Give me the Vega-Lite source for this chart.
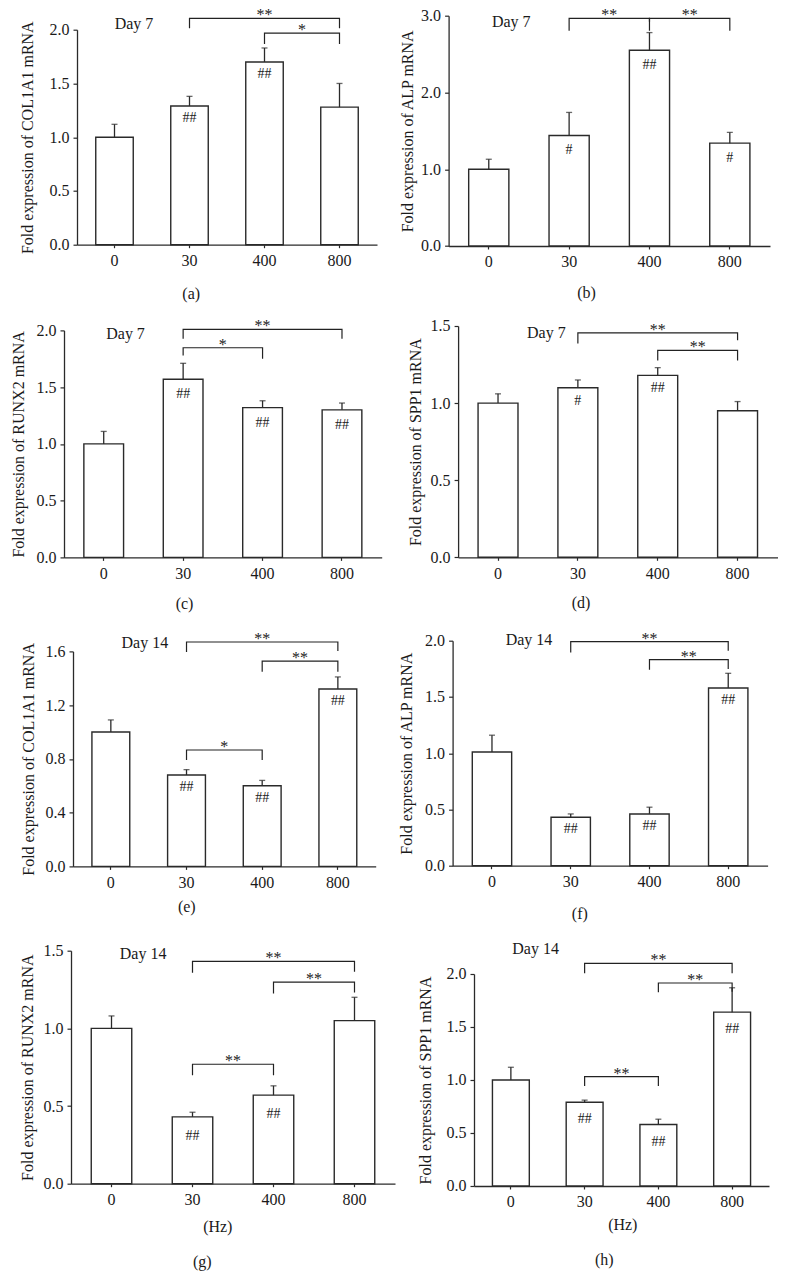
{
"$schema": "https://vega.github.io/schema/vega-lite/v6.json",
"padding": {"left": 10, "top": 6.7, "right": 5, "bottom": 5},
"background": "white",
"datasets": {
"bars": [
{"p":"a","g":"0","m":1.00,"hi":1.12,"lab":""},{"p":"a","g":"30","m":1.29,"hi":1.38,"lab":"##"},{"p":"a","g":"400","m":1.70,"hi":1.83,"lab":"##"},{"p":"a","g":"800","m":1.28,"hi":1.50,"lab":""},
{"p":"b","g":"0","m":1.00,"hi":1.13,"lab":""},{"p":"b","g":"30","m":1.44,"hi":1.74,"lab":"#"},{"p":"b","g":"400","m":2.55,"hi":2.78,"lab":"##"},{"p":"b","g":"800","m":1.34,"hi":1.48,"lab":"#"},
{"p":"c","g":"0","m":1.00,"hi":1.11,"lab":""},{"p":"c","g":"30","m":1.57,"hi":1.71,"lab":"##"},{"p":"c","g":"400","m":1.32,"hi":1.38,"lab":"##"},{"p":"c","g":"800","m":1.30,"hi":1.36,"lab":"##"},
{"p":"d","g":"0","m":1.00,"hi":1.06,"lab":""},{"p":"d","g":"30","m":1.10,"hi":1.15,"lab":"#"},{"p":"d","g":"400","m":1.18,"hi":1.23,"lab":"##"},{"p":"d","g":"800","m":0.95,"hi":1.01,"lab":""},
{"p":"e","g":"0","m":1.00,"hi":1.09,"lab":""},{"p":"e","g":"30","m":0.68,"hi":0.72,"lab":"##"},{"p":"e","g":"400","m":0.60,"hi":0.64,"lab":"##"},{"p":"e","g":"800","m":1.32,"hi":1.41,"lab":"##"},
{"p":"f","g":"0","m":1.01,"hi":1.16,"lab":""},{"p":"f","g":"30","m":0.43,"hi":0.46,"lab":"##"},{"p":"f","g":"400","m":0.46,"hi":0.52,"lab":"##"},{"p":"f","g":"800","m":1.58,"hi":1.71,"lab":"##"},
{"p":"g","g":"0","m":1.00,"hi":1.08,"lab":""},{"p":"g","g":"30","m":0.43,"hi":0.46,"lab":"##"},{"p":"g","g":"400","m":0.57,"hi":0.63,"lab":"##"},{"p":"g","g":"800","m":1.05,"hi":1.20,"lab":""},
{"p":"h","g":"0","m":1.00,"hi":1.12,"lab":""},{"p":"h","g":"30","m":0.79,"hi":0.81,"lab":"##"},{"p":"h","g":"400","m":0.58,"hi":0.63,"lab":"##"},{"p":"h","g":"800","m":1.64,"hi":1.87,"lab":"##"}
],
"brk": [
{"p":"a","id":"a1","o":1,"g":"30","v":2.013},{"p":"a","id":"a1","o":2,"g":"30","v":2.106},{"p":"a","id":"a1","o":3,"g":"800","v":2.106},{"p":"a","id":"a1","o":4,"g":"800","v":2.013},
{"p":"a","id":"a2","o":1,"g":"400","v":1.867},{"p":"a","id":"a2","o":2,"g":"400","v":1.969},{"p":"a","id":"a2","o":3,"g":"800","v":1.969},{"p":"a","id":"a2","o":4,"g":"800","v":1.867},
{"p":"b","id":"b1","o":1,"g":"30","v":2.804},{"p":"b","id":"b1","o":2,"g":"30","v":2.966},{"p":"b","id":"b1","o":3,"g":"400","v":2.966},{"p":"b","id":"b1","o":4,"g":"400","v":2.804},
{"p":"b","id":"b2","o":1,"g":"400","v":2.922},{"p":"b","id":"b2","o":2,"g":"400","v":2.966},{"p":"b","id":"b2","o":3,"g":"800","v":2.966},{"p":"b","id":"b2","o":4,"g":"800","v":2.804},
{"p":"c","id":"c1","o":1,"g":"30","v":1.779},{"p":"c","id":"c1","o":2,"g":"30","v":1.847},{"p":"c","id":"c1","o":3,"g":"400","v":1.847},{"p":"c","id":"c1","o":4,"g":"400","v":1.75},
{"p":"c","id":"c2","o":1,"g":"30","v":1.926},{"p":"c","id":"c2","o":2,"g":"30","v":2.009},{"p":"c","id":"c2","o":3,"g":"800","v":2.009},{"p":"c","id":"c2","o":4,"g":"800","v":1.926},
{"p":"d","id":"d1","o":1,"g":"30","v":1.386},{"p":"d","id":"d1","o":2,"g":"30","v":1.455},{"p":"d","id":"d1","o":3,"g":"800","v":1.455},{"p":"d","id":"d1","o":4,"g":"800","v":1.407},
{"p":"d","id":"d2","o":1,"g":"400","v":1.277},{"p":"d","id":"d2","o":2,"g":"400","v":1.342},{"p":"d","id":"d2","o":3,"g":"800","v":1.342},{"p":"d","id":"d2","o":4,"g":"800","v":1.277},
{"p":"e","id":"e1","o":1,"g":"30","v":1.595},{"p":"e","id":"e1","o":2,"g":"30","v":1.670},{"p":"e","id":"e1","o":3,"g":"800","v":1.670},{"p":"e","id":"e1","o":4,"g":"800","v":1.603},
{"p":"e","id":"e2","o":1,"g":"400","v":1.449},{"p":"e","id":"e2","o":2,"g":"400","v":1.528},{"p":"e","id":"e2","o":3,"g":"800","v":1.528},{"p":"e","id":"e2","o":4,"g":"800","v":1.449},
{"p":"e","id":"e3","o":1,"g":"30","v":0.791},{"p":"e","id":"e3","o":2,"g":"30","v":0.866},{"p":"e","id":"e3","o":3,"g":"400","v":0.866},{"p":"e","id":"e3","o":4,"g":"400","v":0.791},
{"p":"f","id":"f1","o":1,"g":"30","v":1.896},{"p":"f","id":"f1","o":2,"g":"30","v":1.991},{"p":"f","id":"f1","o":3,"g":"800","v":1.991},{"p":"f","id":"f1","o":4,"g":"800","v":1.911},
{"p":"f","id":"f2","o":1,"g":"400","v":1.742},{"p":"f","id":"f2","o":2,"g":"400","v":1.831},{"p":"f","id":"f2","o":3,"g":"800","v":1.831},{"p":"f","id":"f2","o":4,"g":"800","v":1.748},
{"p":"g","id":"g1","o":1,"g":"30","v":1.358},{"p":"g","id":"g1","o":2,"g":"30","v":1.431},{"p":"g","id":"g1","o":3,"g":"800","v":1.431},{"p":"g","id":"g1","o":4,"g":"800","v":1.364},
{"p":"g","id":"g2","o":1,"g":"400","v":1.225},{"p":"g","id":"g2","o":2,"g":"400","v":1.298},{"p":"g","id":"g2","o":3,"g":"800","v":1.298},{"p":"g","id":"g2","o":4,"g":"800","v":1.231},
{"p":"g","id":"g3","o":1,"g":"30","v":0.698},{"p":"g","id":"g3","o":2,"g":"30","v":0.769},{"p":"g","id":"g3","o":3,"g":"400","v":0.769},{"p":"g","id":"g3","o":4,"g":"400","v":0.698},
{"p":"h","id":"h1","o":1,"g":"30","v":2.006},{"p":"h","id":"h1","o":2,"g":"30","v":2.101},{"p":"h","id":"h1","o":3,"g":"800","v":2.101},{"p":"h","id":"h1","o":4,"g":"800","v":2.006},
{"p":"h","id":"h2","o":1,"g":"400","v":1.827},{"p":"h","id":"h2","o":2,"g":"400","v":1.915},{"p":"h","id":"h2","o":3,"g":"800","v":1.915},{"p":"h","id":"h2","o":4,"g":"800","v":1.833},
{"p":"h","id":"h3","o":1,"g":"30","v":0.943},{"p":"h","id":"h3","o":2,"g":"30","v":1.031},{"p":"h","id":"h3","o":3,"g":"400","v":1.031},{"p":"h","id":"h3","o":4,"g":"400","v":0.943}
],
"stars": [
{"p":"a","g":"30","span":2,"v":2.106,"s":"**"},{"p":"a","g":"400","span":1,"v":1.969,"s":"*"},
{"p":"b","g":"30","span":1,"v":2.966,"s":"**"},{"p":"b","g":"400","span":1,"v":2.966,"s":"**"},
{"p":"c","g":"30","span":1,"v":1.847,"s":"*"},{"p":"c","g":"30","span":2,"v":2.009,"s":"**"},
{"p":"d","g":"30","span":2,"v":1.455,"s":"**"},{"p":"d","g":"400","span":1,"v":1.342,"s":"**"},
{"p":"e","g":"30","span":2,"v":1.670,"s":"**"},{"p":"e","g":"400","span":1,"v":1.528,"s":"**"},{"p":"e","g":"30","span":1,"v":0.866,"s":"*"},
{"p":"f","g":"30","span":2,"v":1.991,"s":"**"},{"p":"f","g":"400","span":1,"v":1.831,"s":"**"},
{"p":"g","g":"30","span":2,"v":1.431,"s":"**"},{"p":"g","g":"400","span":1,"v":1.298,"s":"**"},{"p":"g","g":"30","span":1,"v":0.769,"s":"**"},
{"p":"h","g":"30","span":2,"v":2.101,"s":"**"},{"p":"h","g":"400","span":1,"v":1.915,"s":"**"},{"p":"h","g":"30","span":1,"v":1.031,"s":"**"}
],
"days": [
{"p":"a","day":"Day 7"},{"p":"b","day":"Day 7"},{"p":"c","day":"Day 7"},{"p":"d","day":"Day 7"},
{"p":"e","day":"Day 14"},{"p":"f","day":"Day 14"},{"p":"g","day":"Day 14"},{"p":"h","day":"Day 14"}
]
},
"config": {
"view": {"stroke": null},
"font": "Liberation Serif",
"text": {"font": "Liberation Serif", "color": "#1a1a1a"},
"title": {"font": "Liberation Serif", "fontSize": 16, "fontWeight": "normal", "color": "#1a1a1a"},
"axis": {"grid": false, "domainColor": "#2a2a2a", "domainWidth": 1.3, "tickColor": "#2a2a2a", "tickWidth": 1.2, "labelColor": "#1a1a1a", "titleColor": "#1a1a1a", "labelFont": "Liberation Serif", "titleFont": "Liberation Serif", "labelFontSize": 16, "titleFontSize": 16, "titleFontWeight": "normal"},
"axisX": {"labelAngle": 0, "tickSize": 3, "labelPadding": 5, "titleFontSize": 16},
"axisY": {"tickSize": 4, "labelPadding": 4}
},
"columns": 2,
"align": "none",
"spacing": -3,
"concat": [
{"columns": 1, "align": "none", "spacing": 15.7, "concat": [
{"width": 300, "height": 215, "layer": [
{"data": {"name": "bars"}, "transform": [{"filter": "datum.p==='a'"}], "mark": {"type": "bar", "fill": "#ffffff", "stroke": "#2a2a2a", "strokeWidth": 1.4},
 "encoding": {"x": {"field": "g", "type": "nominal", "scale": {"domain": ["0","30","400","800"], "paddingInner": 0.5, "paddingOuter": 0.25}, "axis": {"title": "(a)", "titlePadding": 17, "titleX": 113.7}},
 "y": {"field": "m", "type": "quantitative", "scale": {"domain": [0, 2], "nice": false}, "axis": {"title": "Fold expression of COL1A1 mRNA", "values": [0, 0.5, 1, 1.5, 2], "format": ".1f", "titlePadding": 13.8}}}},
{"data": {"name": "bars"}, "transform": [{"filter": "datum.p==='a'"}], "mark": {"type": "rule", "color": "#2a2a2a", "strokeWidth": 1.3}, "encoding": {"x": {"field": "g", "type": "nominal"}, "y": {"field": "m", "type": "quantitative"}, "y2": {"field": "hi"}}},
{"data": {"name": "bars"}, "transform": [{"filter": "datum.p==='a'"}], "mark": {"type": "tick", "color": "#2a2a2a", "size": 6, "thickness": 1.3}, "encoding": {"x": {"field": "g", "type": "nominal"}, "y": {"field": "hi", "type": "quantitative"}}},
{"data": {"name": "bars"}, "transform": [{"filter": "datum.p==='a'"}], "mark": {"type": "text", "baseline": "top", "dy": 5, "fontSize": 14}, "encoding": {"x": {"field": "g", "type": "nominal"}, "y": {"field": "m", "type": "quantitative"}, "text": {"field": "lab"}}},
{"data": {"name": "brk"}, "transform": [{"filter": "datum.p==='a'"}], "mark": {"type": "line", "color": "#222222", "strokeWidth": 1.2}, "encoding": {"x": {"field": "g", "type": "nominal"}, "y": {"field": "v", "type": "quantitative"}, "detail": {"field": "id"}, "order": {"field": "o"}}},
{"data": {"name": "stars"}, "transform": [{"filter": "datum.p==='a' && datum.span===1"}], "mark": {"type": "text", "baseline": "alphabetic", "dy": 2, "fontSize": 16}, "encoding": {"x": {"field": "g", "type": "nominal", "bandPosition": 1.5}, "y": {"field": "v", "type": "quantitative"}, "text": {"field": "s"}}},
{"data": {"name": "stars"}, "transform": [{"filter": "datum.p==='a' && datum.span===2"}], "mark": {"type": "text", "baseline": "alphabetic", "dy": 2, "fontSize": 16}, "encoding": {"x": {"field": "g", "type": "nominal", "bandPosition": 2.5}, "y": {"field": "v", "type": "quantitative"}, "text": {"field": "s"}}},
{"data": {"name": "days"}, "transform": [{"filter": "datum.p==='a'"}], "mark": {"type": "text", "baseline": "middle", "fontSize": 16}, "encoding": {"x": {"datum": "0", "type": "nominal", "bandPosition": 1.02}, "y": {"datum": 2.053, "type": "quantitative"}, "text": {"field": "day"}}}
]},
{"columns": 1, "align": "none", "spacing": 18, "concat": [
{"width": 304.7, "height": 227, "layer": [
{"data": {"name": "bars"}, "transform": [{"filter": "datum.p==='c'"}], "mark": {"type": "bar", "fill": "#ffffff", "stroke": "#2a2a2a", "strokeWidth": 1.4},
 "encoding": {"x": {"field": "g", "type": "nominal", "scale": {"domain": ["0","30","400","800"], "paddingInner": 0.5, "paddingOuter": 0.25, "range": [-13, 304.7]}, "axis": {"title": "(c)", "titlePadding": 14.4, "titleX": 107}},
 "y": {"field": "m", "type": "quantitative", "scale": {"domain": [0, 2], "nice": false}, "axis": {"title": "Fold expression of RUNX2 mRNA", "values": [0, 0.5, 1, 1.5, 2], "format": ".1f", "titlePadding": 9.5, "offset": 13}}}},
{"data": {"name": "bars"}, "transform": [{"filter": "datum.p==='c'"}], "mark": {"type": "rule", "color": "#2a2a2a", "strokeWidth": 1.3}, "encoding": {"x": {"field": "g", "type": "nominal"}, "y": {"field": "m", "type": "quantitative"}, "y2": {"field": "hi"}}},
{"data": {"name": "bars"}, "transform": [{"filter": "datum.p==='c'"}], "mark": {"type": "tick", "color": "#2a2a2a", "size": 6, "thickness": 1.3}, "encoding": {"x": {"field": "g", "type": "nominal"}, "y": {"field": "hi", "type": "quantitative"}}},
{"data": {"name": "bars"}, "transform": [{"filter": "datum.p==='c'"}], "mark": {"type": "text", "baseline": "top", "dy": 8, "fontSize": 14}, "encoding": {"x": {"field": "g", "type": "nominal"}, "y": {"field": "m", "type": "quantitative"}, "text": {"field": "lab"}}},
{"data": {"name": "brk"}, "transform": [{"filter": "datum.p==='c'"}], "mark": {"type": "line", "color": "#222222", "strokeWidth": 1.2}, "encoding": {"x": {"field": "g", "type": "nominal"}, "y": {"field": "v", "type": "quantitative"}, "detail": {"field": "id"}, "order": {"field": "o"}}},
{"data": {"name": "stars"}, "transform": [{"filter": "datum.p==='c' && datum.span===1"}], "mark": {"type": "text", "baseline": "alphabetic", "dy": 2, "fontSize": 16}, "encoding": {"x": {"field": "g", "type": "nominal", "bandPosition": 1.5}, "y": {"field": "v", "type": "quantitative"}, "text": {"field": "s"}}},
{"data": {"name": "stars"}, "transform": [{"filter": "datum.p==='c' && datum.span===2"}], "mark": {"type": "text", "baseline": "alphabetic", "dy": 2, "fontSize": 16}, "encoding": {"x": {"field": "g", "type": "nominal", "bandPosition": 2.5}, "y": {"field": "v", "type": "quantitative"}, "text": {"field": "s"}}},
{"data": {"name": "days"}, "transform": [{"filter": "datum.p==='c'"}], "mark": {"type": "text", "baseline": "middle", "fontSize": 16}, "encoding": {"x": {"datum": "0", "type": "nominal", "bandPosition": 1.05}, "y": {"datum": 1.971, "type": "quantitative"}, "text": {"field": "day"}}}
]},
{"columns": 1, "align": "none", "spacing": 27.3, "concat": [
{"width": 298.7, "height": 215, "layer": [
{"data": {"name": "bars"}, "transform": [{"filter": "datum.p==='e'"}], "mark": {"type": "bar", "fill": "#ffffff", "stroke": "#2a2a2a", "strokeWidth": 1.4},
 "encoding": {"x": {"field": "g", "type": "nominal", "scale": {"domain": ["0","30","400","800"], "paddingInner": 0.5, "paddingOuter": 0.25, "range": [-4, 298.7]}, "axis": {"title": "(e)", "titlePadding": 8.4, "titleX": 109.3}},
 "y": {"field": "m", "type": "quantitative", "scale": {"domain": [0, 1.6], "nice": false}, "axis": {"title": "Fold expression of COL1A1 mRNA", "values": [0, 0.4, 0.8, 1.2, 1.6], "format": ".1f", "titlePadding": 8.5, "offset": 4}}}},
{"data": {"name": "bars"}, "transform": [{"filter": "datum.p==='e'"}], "mark": {"type": "rule", "color": "#2a2a2a", "strokeWidth": 1.3}, "encoding": {"x": {"field": "g", "type": "nominal"}, "y": {"field": "m", "type": "quantitative"}, "y2": {"field": "hi"}}},
{"data": {"name": "bars"}, "transform": [{"filter": "datum.p==='e'"}], "mark": {"type": "tick", "color": "#2a2a2a", "size": 6, "thickness": 1.3}, "encoding": {"x": {"field": "g", "type": "nominal"}, "y": {"field": "hi", "type": "quantitative"}}},
{"data": {"name": "bars"}, "transform": [{"filter": "datum.p==='e'"}], "mark": {"type": "text", "baseline": "top", "dy": 5, "fontSize": 14}, "encoding": {"x": {"field": "g", "type": "nominal"}, "y": {"field": "m", "type": "quantitative"}, "text": {"field": "lab"}}},
{"data": {"name": "brk"}, "transform": [{"filter": "datum.p==='e'"}], "mark": {"type": "line", "color": "#222222", "strokeWidth": 1.2}, "encoding": {"x": {"field": "g", "type": "nominal"}, "y": {"field": "v", "type": "quantitative"}, "detail": {"field": "id"}, "order": {"field": "o"}}},
{"data": {"name": "stars"}, "transform": [{"filter": "datum.p==='e' && datum.span===1"}], "mark": {"type": "text", "baseline": "alphabetic", "dy": 2, "fontSize": 16}, "encoding": {"x": {"field": "g", "type": "nominal", "bandPosition": 1.5}, "y": {"field": "v", "type": "quantitative"}, "text": {"field": "s"}}},
{"data": {"name": "stars"}, "transform": [{"filter": "datum.p==='e' && datum.span===2"}], "mark": {"type": "text", "baseline": "alphabetic", "dy": 2, "fontSize": 16}, "encoding": {"x": {"field": "g", "type": "nominal", "bandPosition": 2.5}, "y": {"field": "v", "type": "quantitative"}, "text": {"field": "s"}}},
{"data": {"name": "days"}, "transform": [{"filter": "datum.p==='e'"}], "mark": {"type": "text", "baseline": "middle", "fontSize": 16}, "encoding": {"x": {"datum": "0", "type": "nominal", "bandPosition": 1.4}, "y": {"datum": 1.665, "type": "quantitative"}, "text": {"field": "day"}}}
]},
{"width": 318, "height": 233, "title": {"text": "(g)", "orient": "bottom", "anchor": "middle", "frame": "group", "dx": -33.7, "offset": 19},
 "layer": [
{"data": {"name": "bars"}, "transform": [{"filter": "datum.p==='g'"}], "mark": {"type": "bar", "fill": "#ffffff", "stroke": "#2a2a2a", "strokeWidth": 1.4},
 "encoding": {"x": {"field": "g", "type": "nominal", "scale": {"domain": ["0","30","400","800"], "paddingInner": 0.5, "paddingOuter": 0.25, "range": [-6, 318]}, "axis": {"title": "(Hz)", "titlePadding": 11, "titleX": 140.3}},
 "y": {"field": "m", "type": "quantitative", "scale": {"domain": [0, 1.5], "nice": false}, "axis": {"title": "Fold expression of RUNX2 mRNA", "values": [0, 0.5, 1, 1.5], "format": ".1f", "titlePadding": 7.8, "offset": 6}}}},
{"data": {"name": "bars"}, "transform": [{"filter": "datum.p==='g'"}], "mark": {"type": "rule", "color": "#2a2a2a", "strokeWidth": 1.3}, "encoding": {"x": {"field": "g", "type": "nominal"}, "y": {"field": "m", "type": "quantitative"}, "y2": {"field": "hi"}}},
{"data": {"name": "bars"}, "transform": [{"filter": "datum.p==='g'"}], "mark": {"type": "tick", "color": "#2a2a2a", "size": 6, "thickness": 1.3}, "encoding": {"x": {"field": "g", "type": "nominal"}, "y": {"field": "hi", "type": "quantitative"}}},
{"data": {"name": "bars"}, "transform": [{"filter": "datum.p==='g'"}], "mark": {"type": "text", "baseline": "top", "dy": 12, "fontSize": 14}, "encoding": {"x": {"field": "g", "type": "nominal"}, "y": {"field": "m", "type": "quantitative"}, "text": {"field": "lab"}}},
{"data": {"name": "brk"}, "transform": [{"filter": "datum.p==='g'"}], "mark": {"type": "line", "color": "#222222", "strokeWidth": 1.2}, "encoding": {"x": {"field": "g", "type": "nominal"}, "y": {"field": "v", "type": "quantitative"}, "detail": {"field": "id"}, "order": {"field": "o"}}},
{"data": {"name": "stars"}, "transform": [{"filter": "datum.p==='g' && datum.span===1"}], "mark": {"type": "text", "baseline": "alphabetic", "dy": 2, "fontSize": 16}, "encoding": {"x": {"field": "g", "type": "nominal", "bandPosition": 1.5}, "y": {"field": "v", "type": "quantitative"}, "text": {"field": "s"}}},
{"data": {"name": "stars"}, "transform": [{"filter": "datum.p==='g' && datum.span===2"}], "mark": {"type": "text", "baseline": "alphabetic", "dy": 2, "fontSize": 16}, "encoding": {"x": {"field": "g", "type": "nominal", "bandPosition": 2.5}, "y": {"field": "v", "type": "quantitative"}, "text": {"field": "s"}}},
{"data": {"name": "days"}, "transform": [{"filter": "datum.p==='g'"}], "mark": {"type": "text", "baseline": "middle", "fontSize": 16}, "encoding": {"x": {"datum": "0", "type": "nominal", "bandPosition": 1.28}, "y": {"datum": 1.479, "type": "quantitative"}, "text": {"field": "day"}}}
]}
]}
]}
]},
{"columns": 1, "align": "none", "spacing": 16.3, "concat": [
{"width": 294, "height": 216.3, "layer": [
{"data": {"name": "bars"}, "transform": [{"filter": "datum.p==='b'"}], "mark": {"type": "bar", "fill": "#ffffff", "stroke": "#2a2a2a", "strokeWidth": 1.4},
 "encoding": {"x": {"field": "g", "type": "nominal", "scale": {"domain": ["0","30","400","800"], "paddingInner": 0.5, "paddingOuter": 0.25, "range": [-27.4, 294]}, "axis": {"title": "(b)", "titlePadding": 15, "titleX": 110}},
 "y": {"field": "m", "type": "quantitative", "scale": {"domain": [0, 3], "nice": false, "range": [216.3, -14]}, "axis": {"title": "Fold expression of ALP mRNA", "values": [0, 0.5, 1, 1.5, 2, 2.5, 3], "format": ".1f", "titlePadding": 5.1, "offset": 27.4}}}},
{"data": {"name": "bars"}, "transform": [{"filter": "datum.p==='b'"}], "mark": {"type": "rule", "color": "#2a2a2a", "strokeWidth": 1.3}, "encoding": {"x": {"field": "g", "type": "nominal"}, "y": {"field": "m", "type": "quantitative"}, "y2": {"field": "hi"}}},
{"data": {"name": "bars"}, "transform": [{"filter": "datum.p==='b'"}], "mark": {"type": "tick", "color": "#2a2a2a", "size": 6, "thickness": 1.3}, "encoding": {"x": {"field": "g", "type": "nominal"}, "y": {"field": "hi", "type": "quantitative"}}},
{"data": {"name": "bars"}, "transform": [{"filter": "datum.p==='b'"}], "mark": {"type": "text", "baseline": "top", "dy": 8, "fontSize": 14}, "encoding": {"x": {"field": "g", "type": "nominal"}, "y": {"field": "m", "type": "quantitative"}, "text": {"field": "lab"}}},
{"data": {"name": "brk"}, "transform": [{"filter": "datum.p==='b'"}], "mark": {"type": "line", "color": "#222222", "strokeWidth": 1.2}, "encoding": {"x": {"field": "g", "type": "nominal"}, "y": {"field": "v", "type": "quantitative"}, "detail": {"field": "id"}, "order": {"field": "o"}}},
{"data": {"name": "stars"}, "transform": [{"filter": "datum.p==='b' && datum.span===1"}], "mark": {"type": "text", "baseline": "alphabetic", "dy": 2, "fontSize": 16}, "encoding": {"x": {"field": "g", "type": "nominal", "bandPosition": 1.5}, "y": {"field": "v", "type": "quantitative"}, "text": {"field": "s"}}},
{"data": {"name": "days"}, "transform": [{"filter": "datum.p==='b'"}], "mark": {"type": "text", "baseline": "middle", "fontSize": 16}, "encoding": {"x": {"datum": "0", "type": "nominal", "bandPosition": 1.06}, "y": {"datum": 2.914, "type": "quantitative"}, "text": {"field": "day"}}}
]},
{"columns": 1, "align": "none", "spacing": 19.7, "concat": [
{"width": 301.5, "height": 231.3, "layer": [
{"data": {"name": "bars"}, "transform": [{"filter": "datum.p==='d'"}], "mark": {"type": "bar", "fill": "#ffffff", "stroke": "#2a2a2a", "strokeWidth": 1.4},
 "encoding": {"x": {"field": "g", "type": "nominal", "scale": {"domain": ["0","30","400","800"], "paddingInner": 0.5, "paddingOuter": 0.25, "range": [-17.9, 301.5]}, "axis": {"title": "(d)", "titlePadding": 13.6, "titleX": 104.5}},
 "y": {"field": "m", "type": "quantitative", "scale": {"domain": [0, 1.5], "nice": false}, "axis": {"title": "Fold expression of SPP1 mRNA", "values": [0, 0.5, 1, 1.5], "format": ".1f", "titlePadding": 6.5, "offset": 17.9}}}},
{"data": {"name": "bars"}, "transform": [{"filter": "datum.p==='d'"}], "mark": {"type": "rule", "color": "#2a2a2a", "strokeWidth": 1.3}, "encoding": {"x": {"field": "g", "type": "nominal"}, "y": {"field": "m", "type": "quantitative"}, "y2": {"field": "hi"}}},
{"data": {"name": "bars"}, "transform": [{"filter": "datum.p==='d'"}], "mark": {"type": "tick", "color": "#2a2a2a", "size": 6, "thickness": 1.3}, "encoding": {"x": {"field": "g", "type": "nominal"}, "y": {"field": "hi", "type": "quantitative"}}},
{"data": {"name": "bars"}, "transform": [{"filter": "datum.p==='d'"}], "mark": {"type": "text", "baseline": "top", "dy": 6, "fontSize": 14}, "encoding": {"x": {"field": "g", "type": "nominal"}, "y": {"field": "m", "type": "quantitative"}, "text": {"field": "lab"}}},
{"data": {"name": "brk"}, "transform": [{"filter": "datum.p==='d'"}], "mark": {"type": "line", "color": "#222222", "strokeWidth": 1.2}, "encoding": {"x": {"field": "g", "type": "nominal"}, "y": {"field": "v", "type": "quantitative"}, "detail": {"field": "id"}, "order": {"field": "o"}}},
{"data": {"name": "stars"}, "transform": [{"filter": "datum.p==='d' && datum.span===1"}], "mark": {"type": "text", "baseline": "alphabetic", "dy": 2, "fontSize": 16}, "encoding": {"x": {"field": "g", "type": "nominal", "bandPosition": 1.5}, "y": {"field": "v", "type": "quantitative"}, "text": {"field": "s"}}},
{"data": {"name": "stars"}, "transform": [{"filter": "datum.p==='d' && datum.span===2"}], "mark": {"type": "text", "baseline": "alphabetic", "dy": 2, "fontSize": 16}, "encoding": {"x": {"field": "g", "type": "nominal", "bandPosition": 2.5}, "y": {"field": "v", "type": "quantitative"}, "text": {"field": "s"}}},
{"data": {"name": "days"}, "transform": [{"filter": "datum.p==='d'"}], "mark": {"type": "text", "baseline": "middle", "fontSize": 16}, "encoding": {"x": {"datum": "0", "type": "nominal", "bandPosition": 1.71}, "y": {"datum": 1.457, "type": "quantitative"}, "text": {"field": "day"}}}
]},
{"columns": 1, "align": "none", "spacing": 18.3, "concat": [
{"width": 291.6, "height": 225, "layer": [
{"data": {"name": "bars"}, "transform": [{"filter": "datum.p==='f'"}], "mark": {"type": "bar", "fill": "#ffffff", "stroke": "#2a2a2a", "strokeWidth": 1.4},
 "encoding": {"x": {"field": "g", "type": "nominal", "scale": {"domain": ["0","30","400","800"], "paddingInner": 0.5, "paddingOuter": 0.25, "range": [-23.4, 291.6]}, "axis": {"title": "(f)", "titlePadding": 15.6, "titleX": 103.3}},
 "y": {"field": "m", "type": "quantitative", "scale": {"domain": [0, 2], "nice": false}, "axis": {"title": "Fold expression of ALP mRNA", "values": [0, 0.5, 1, 1.5, 2], "format": ".1f", "titlePadding": 9.8, "offset": 23.4}}}},
{"data": {"name": "bars"}, "transform": [{"filter": "datum.p==='f'"}], "mark": {"type": "rule", "color": "#2a2a2a", "strokeWidth": 1.3}, "encoding": {"x": {"field": "g", "type": "nominal"}, "y": {"field": "m", "type": "quantitative"}, "y2": {"field": "hi"}}},
{"data": {"name": "bars"}, "transform": [{"filter": "datum.p==='f'"}], "mark": {"type": "tick", "color": "#2a2a2a", "size": 6, "thickness": 1.3}, "encoding": {"x": {"field": "g", "type": "nominal"}, "y": {"field": "hi", "type": "quantitative"}}},
{"data": {"name": "bars"}, "transform": [{"filter": "datum.p==='f'"}], "mark": {"type": "text", "baseline": "top", "dy": 5, "fontSize": 14}, "encoding": {"x": {"field": "g", "type": "nominal"}, "y": {"field": "m", "type": "quantitative"}, "text": {"field": "lab"}}},
{"data": {"name": "brk"}, "transform": [{"filter": "datum.p==='f'"}], "mark": {"type": "line", "color": "#222222", "strokeWidth": 1.2}, "encoding": {"x": {"field": "g", "type": "nominal"}, "y": {"field": "v", "type": "quantitative"}, "detail": {"field": "id"}, "order": {"field": "o"}}},
{"data": {"name": "stars"}, "transform": [{"filter": "datum.p==='f' && datum.span===1"}], "mark": {"type": "text", "baseline": "alphabetic", "dy": 2, "fontSize": 16}, "encoding": {"x": {"field": "g", "type": "nominal", "bandPosition": 1.5}, "y": {"field": "v", "type": "quantitative"}, "text": {"field": "s"}}},
{"data": {"name": "stars"}, "transform": [{"filter": "datum.p==='f' && datum.span===2"}], "mark": {"type": "text", "baseline": "alphabetic", "dy": 2, "fontSize": 16}, "encoding": {"x": {"field": "g", "type": "nominal", "bandPosition": 2.5}, "y": {"field": "v", "type": "quantitative"}, "text": {"field": "s"}}},
{"data": {"name": "days"}, "transform": [{"filter": "datum.p==='f'"}], "mark": {"type": "text", "baseline": "middle", "fontSize": 16}, "encoding": {"x": {"datum": "0", "type": "nominal", "bandPosition": 1.44}, "y": {"datum": 2.009, "type": "quantitative"}, "text": {"field": "day"}}}
]},
{"width": 293, "height": 212, "title": {"text": "(h)", "orient": "bottom", "anchor": "middle", "frame": "group", "dx": -18.2, "offset": 19},
 "layer": [
{"data": {"name": "bars"}, "transform": [{"filter": "datum.p==='h'"}], "mark": {"type": "bar", "fill": "#ffffff", "stroke": "#2a2a2a", "strokeWidth": 1.4},
 "encoding": {"x": {"field": "g", "type": "nominal", "scale": {"domain": ["0","30","400","800"], "paddingInner": 0.5, "paddingOuter": 0.25, "range": [-2, 293]}, "axis": {"title": "(Hz)", "titlePadding": 7, "titleX": 146.3}},
 "y": {"field": "m", "type": "quantitative", "scale": {"domain": [0, 2], "nice": false}, "axis": {"title": "Fold expression of SPP1 mRNA", "values": [0, 0.5, 1, 1.5, 2], "format": ".1f", "titlePadding": 12.5, "offset": 2}}}},
{"data": {"name": "bars"}, "transform": [{"filter": "datum.p==='h'"}], "mark": {"type": "rule", "color": "#2a2a2a", "strokeWidth": 1.3}, "encoding": {"x": {"field": "g", "type": "nominal"}, "y": {"field": "m", "type": "quantitative"}, "y2": {"field": "hi"}}},
{"data": {"name": "bars"}, "transform": [{"filter": "datum.p==='h'"}], "mark": {"type": "tick", "color": "#2a2a2a", "size": 6, "thickness": 1.3}, "encoding": {"x": {"field": "g", "type": "nominal"}, "y": {"field": "hi", "type": "quantitative"}}},
{"data": {"name": "bars"}, "transform": [{"filter": "datum.p==='h'"}], "mark": {"type": "text", "baseline": "top", "dy": 10, "fontSize": 14}, "encoding": {"x": {"field": "g", "type": "nominal"}, "y": {"field": "m", "type": "quantitative"}, "text": {"field": "lab"}}},
{"data": {"name": "brk"}, "transform": [{"filter": "datum.p==='h'"}], "mark": {"type": "line", "color": "#222222", "strokeWidth": 1.2}, "encoding": {"x": {"field": "g", "type": "nominal"}, "y": {"field": "v", "type": "quantitative"}, "detail": {"field": "id"}, "order": {"field": "o"}}},
{"data": {"name": "stars"}, "transform": [{"filter": "datum.p==='h' && datum.span===1"}], "mark": {"type": "text", "baseline": "alphabetic", "dy": 2, "fontSize": 16}, "encoding": {"x": {"field": "g", "type": "nominal", "bandPosition": 1.5}, "y": {"field": "v", "type": "quantitative"}, "text": {"field": "s"}}},
{"data": {"name": "stars"}, "transform": [{"filter": "datum.p==='h' && datum.span===2"}], "mark": {"type": "text", "baseline": "alphabetic", "dy": 2, "fontSize": 16}, "encoding": {"x": {"field": "g", "type": "nominal", "bandPosition": 2.5}, "y": {"field": "v", "type": "quantitative"}, "text": {"field": "s"}}},
{"data": {"name": "days"}, "transform": [{"filter": "datum.p==='h'"}], "mark": {"type": "text", "baseline": "middle", "fontSize": 16}, "encoding": {"x": {"datum": "0", "type": "nominal", "bandPosition": 1.17}, "y": {"datum": 2.236, "type": "quantitative"}, "text": {"field": "day"}}}
]}
]}
]}
]}
]
}
